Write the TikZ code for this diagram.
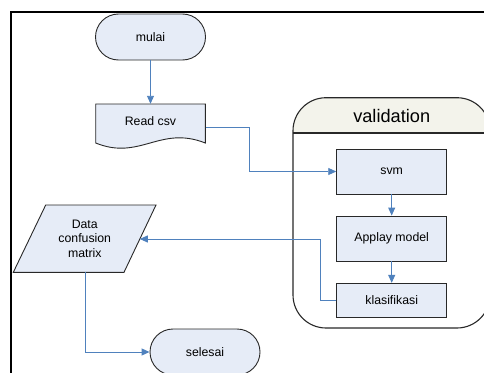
\documentclass[tikz,border=0pt]{standalone}
\usepackage{fontspec}
\setmainfont{Liberation Sans}
\usetikzlibrary{arrows.meta,calc}
\definecolor{boxfill}{RGB}{230,236,247}
\definecolor{headfill}{RGB}{243,243,235}
\definecolor{flowblue}{RGB}{79,129,189}
\definecolor{edge}{RGB}{40,40,40}
\tikzset{
  base/.style={font=\fontsize{12.3}{14.7}\selectfont, align=center, inner sep=0pt},
  terminal/.style={base, draw=edge, fill=boxfill, line width=0.9pt,
    minimum width=110pt, minimum height=46pt, rounded corners=23pt},
  process/.style={base, draw=edge, fill=boxfill, line width=0.9pt,
    minimum width=110pt},
  textonly/.style={base},
  outline/.style={draw=edge, fill=boxfill, line width=0.9pt},
  flow/.style={draw=flowblue, line width=0.9pt,
    -{Triangle[length=8pt,width=7pt]}},
}
\begin{document}
\begin{tikzpicture}[x=1pt,y=-1pt]
\useasboundingbox (0,0) rectangle (484,372);
\clip (0,0) rectangle (484,372);

% outer frame, running past the right and bottom edges
\draw[line width=2.4pt] (11,12) rectangle (540,420);

% validation container with its title band
\begin{scope}
  \clip[rounded corners=33pt] (293,97.7) rectangle (490,328);
  \fill[white] (293,97.7) rectangle (490,328);
  \fill[headfill] (293,97.7) rectangle (490,133);
\end{scope}
\draw[edge, line width=1.1pt, rounded corners=33pt] (293,97.7) rectangle (490,328);
\draw[edge, line width=1.1pt] (293,133) -- (490,133);
\node[base, font=\fontsize{18.2}{20}\selectfont] (valtitle) at (391.7,115.5) {validation};

% start
\node[terminal] (mulai) at (150.5,37) {mulai};

% document shape for reading the csv, wavy lower edge
\draw[outline] (95.7,104) -- (205.3,104) -- (205.3,143)
  .. controls (160,125) and (140,161) .. (95.7,143) -- cycle;
\node[textonly, minimum width=109.6pt, minimum height=34pt] (readcsv) at (150.5,121) {Read csv};

% steps inside the container
\node[process, minimum height=45pt] (svm) at (391.7,171.5) {svm};
\node[process, minimum height=45pt] (apply) at (391.7,238.5) {Applay model};
\node[process, minimum height=34pt] (klas) at (391.7,300.3) {klasifikasi};

% data output (parallelogram)
\draw[outline] (45.7,205) -- (156,205) -- (124,272.3) -- (13.3,272.3) -- cycle;
\node[textonly] (dcm) at (84.75,238.7) {Data\\confusion\\matrix};
\coordinate (dcmR) at (139.8,239);
\coordinate (dcmB) at (85,272.3);

% end
\node[terminal] (selesai) at (205,352) {selesai};

% connectors
\draw[flow] (mulai.south) -- (readcsv.north);
\draw[flow] (readcsv.east) ++(0,6) -- ++(44,0) |- (svm.west);
\draw[flow] (svm.south) -- (apply.north);
\draw[flow] (apply.south) -- (klas.north);
\draw[flow] (klas.west) -- ++(-16,0) |- (dcmR);
\draw[flow] (dcmB) |- (selesai.west);
\end{tikzpicture}
\end{document}
